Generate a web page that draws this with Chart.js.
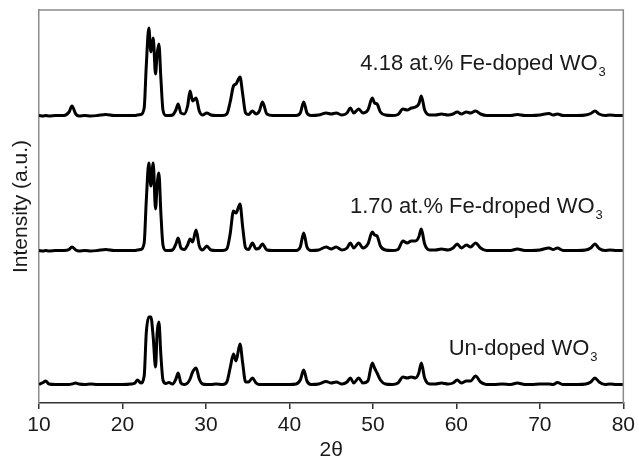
<!DOCTYPE html>
<html>
<head>
<meta charset="utf-8">
<style>
  html, body { margin: 0; padding: 0; background: #fff; }
  #wrap { width: 639px; height: 463px; }
</style>
</head>
<body>
<div id="wrap">
  <canvas id="xrd"></canvas>
</div>

<script src="https://cdn.jsdelivr.net/npm/chart.js"></script>

<script>
  // 2-theta grid (degrees), shared by the three patterns
  const twoTheta = [
    10.0, 10.5, 10.8, 11.2, 12.0, 13.0, 13.6, 13.95, 14.4, 14.8,
    15.5, 16.2, 17.0, 18.0, 19.0, 20.0, 21.0, 21.5, 21.8, 22.2,
    22.6, 22.85, 23.16, 23.4, 23.68, 23.96, 24.15, 24.36, 24.6, 24.85,
    25.2, 25.55, 26.0, 26.4, 26.67, 27.0, 27.4, 27.8, 28.1, 28.4,
    28.82, 29.2, 29.6, 30.1, 30.6, 31.2, 32.0, 32.5, 32.9, 33.3,
    33.6, 34.08, 34.4, 34.75, 35.1, 35.57, 36.0, 36.4, 36.77, 37.3,
    38.0, 39.0, 40.0, 40.8, 41.3, 41.71, 42.1, 42.6, 43.5, 44.4,
    45.0, 45.6, 46.3, 46.9, 47.3, 47.7, 48.3, 48.8, 49.4, 49.93,
    50.2, 50.5, 50.9, 51.5, 52.3, 53.0, 53.6, 54.1, 54.6, 55.1,
    55.5, 55.8, 56.2, 56.8, 57.5, 58.2, 59.0, 59.6, 60.1, 60.6,
    61.2, 61.7, 62.3, 62.9, 63.6, 64.5, 65.5, 66.5, 67.3, 68.2,
    69.0, 70.0, 71.1, 71.6, 72.1, 72.8, 73.6, 74.5, 75.5, 76.1,
    76.6, 77.1, 77.8, 78.4, 79.2, 80.0
  ];

  // intensities (a.u.), each above its own baseline
  const fe418 = [
    0.5, 0, 0.5, 0, 0.5, 0.5, 4, 10, 2, 0,
    0.5, 0, 0.5, 1.5, 0.5, 0.5, 0.5, 0.5, 1, 1.5,
    8, 50, 88, 64, 78, 42, 62, 72, 38, 6,
    0.5, 0.5, 1, 6, 12, 3, 2, 10, 25, 15,
    18, 5, 1, 3, 1, 0.5, 0.5, 2, 14, 30,
    32, 39, 22, 3, 1.5, 5, 2, 5, 14, 2,
    0.5, 0.5, 0.5, 0.5, 3, 14, 3, 0.5, 1, 3,
    2, 3, 1, 3, 8, 3, 7, 3, 6, 18,
    13, 12, 4, 1, 0.5, 1.5, 7, 6, 8, 9,
    12, 20, 6, 1, 1, 2, 1, 2, 4, 2,
    4, 3, 5, 2, 0.5, 0.5, 0.5, 0.5, 1.5, 0.5,
    0.5, 1, 2.5, 1, 2, 0.5, 0.5, 0.5, 1, 2.5,
    5, 2, 0.5, 1, 0.5, 0.5
  ];

  const fe170 = [
    0.5, 0, 0.5, 0, 0.5, 0.5, 1.5, 4, 1, 0,
    0.5, 0, 0.5, 1.5, 0.5, 0.5, 0.5, 0.5, 1, 1.5,
    8, 50, 88, 65, 88, 42, 66, 78, 38, 6,
    0.5, 0.5, 1, 7, 13, 3, 1.5, 6, 12, 9,
    21, 5, 1, 5, 1, 0.5, 0.5, 2, 17, 40,
    38, 47, 24, 3, 1.5, 8, 2, 3, 7, 1,
    0.5, 0.5, 0.5, 0.5, 4, 18, 4, 0.5, 1, 4,
    2, 4, 1, 3, 8, 3, 8, 3, 7, 19,
    16, 15, 5, 1, 0.5, 1.5, 10, 8, 10, 10,
    14, 22, 7, 1, 1, 2, 1, 3, 7, 3,
    6, 4, 8, 3, 0.5, 0.5, 0.5, 0.5, 2, 0.5,
    0.5, 1, 3, 1.5, 3, 0.5, 0.5, 0.5, 1, 3,
    7, 2.5, 0.5, 1, 0.5, 0.5
  ];

  const undoped = [
    0.5, 2.5, 4, 1, 0.5, 0.5, 0.5, 1, 2, 1,
    0.5, 1, 0.5, 0.5, 0.5, 0.5, 1, 2, 5, 2,
    9, 52, 68, 68, 48, 18, 52, 63, 30, 5,
    1.5, 2.5, 1, 6, 12, 2, 0.5, 2, 6, 13,
    17, 6, 1, 0.5, 0.5, 1, 0.5, 3, 17, 31,
    24, 41, 22, 3, 3, 7, 2, 0.5, 0.5, 0.5,
    0.5, 0.5, 0.5, 1, 5, 15, 4, 0.5, 1, 3.5,
    2, 3, 1, 3, 7, 2, 7, 2, 4, 22,
    17, 12, 5, 1, 0.5, 2, 8, 7, 8, 7,
    12, 22, 7, 1, 1, 2, 1, 2, 5, 2,
    4, 4, 9, 3, 0.5, 0.5, 1, 0.5, 2, 0.5,
    0.5, 1, 1, 0.5, 2.5, 0.5, 0.5, 0.5, 1, 3,
    7, 3, 0.5, 1, 0.5, 0.5
  ];

  // vertical stacking of the patterns
  const offsets = [287, 152, 18];
  const seriesNames = ['4.18 at.% Fe-doped WO3', '1.70 at.% Fe-droped WO3', 'Un-doped WO3'];
  const seriesValues = [fe418, fe170, undoped];

  // labels: main text, centre 2θ, baseline intensity
  const labelText = ['4.18 at.% Fe-doped WO', '1.70 at.% Fe-droped WO', 'Un-doped WO'];
  const labelX = [63.2, 62.4, 68.0];
  const labelY = [333, 190, 48];

  const FONT = '"Liberation Sans", Arial, sans-serif';

  const datasets = seriesValues.map((vals, i) => ({
    label: seriesNames[i],
    data: twoTheta.map((t, k) => ({x: t, y: vals[k] + offsets[i]})),
    borderColor: '#000',
    borderWidth: 3,
    borderJoinStyle: 'round',
    pointRadius: 0,
    cubicInterpolationMode: 'monotone',
    fill: false
  }));

  const frameAndLabels = {
    id: 'frameAndLabels',
    afterDraw(chart) {
      const {ctx, chartArea: a, scales} = chart;
      ctx.save();
      // top and right frame lines
      ctx.strokeStyle = '#8c8c8c';
      ctx.lineWidth = 1.5;
      ctx.beginPath();
      ctx.moveTo(a.left, a.top);
      ctx.lineTo(a.right, a.top);
      ctx.lineTo(a.right, a.bottom);
      ctx.stroke();

      ctx.fillStyle = '#1a1a1a';
      ctx.textBaseline = 'alphabetic';
      labelText.forEach((txt, i) => {
        ctx.font = '22px ' + FONT;
        const w = ctx.measureText(txt).width;
        ctx.font = '13px ' + FONT;
        const ws = ctx.measureText('3').width;
        const cx = scales.x.getPixelForValue(labelX[i]);
        const by = scales.y.getPixelForValue(labelY[i]);
        const x0 = cx - (w + ws + 1) / 2;
        ctx.font = '22px ' + FONT;
        ctx.fillText(txt, x0, by);
        ctx.font = '13px ' + FONT;
        ctx.fillText('3', x0 + w + 1, by + 6);
      });
      ctx.restore();
    }
  };

  new Chart(document.getElementById('xrd'), {
    type: 'line',
    data: { datasets },
    options: {
      responsive: true,
      maintainAspectRatio: false,
      animation: false,
      layout: { padding: { left: 0, top: 10, right: 15, bottom: 0 } },
      plugins: { legend: { display: false }, tooltip: { enabled: false } },
      scales: {
        x: {
          type: 'linear',
          min: 10,
          max: 80,
          afterFit: (s) => { s.height = 60; },
          ticks: { stepSize: 10, color: '#1a1a1a', padding: 4, font: { family: FONT, size: 21 } },
          grid: { drawOnChartArea: false, drawTicks: true, tickLength: 6, color: '#333', lineWidth: 1.5 },
          border: { color: '#333', width: 1.5 },
          title: { display: true, text: '2θ', color: '#1a1a1a', padding: { top: 0, bottom: 0 }, font: { family: FONT, size: 21 } }
        },
        y: {
          type: 'linear',
          min: 0,
          max: 393,
          afterFit: (s) => { s.width = 39; },
          ticks: { display: false },
          grid: { display: false, drawTicks: false },
          border: { color: '#8c8c8c', width: 1.5 },
          title: { display: true, text: 'Intensity (a.u.)', color: '#1a1a1a', padding: { top: 9, bottom: 0 }, font: { family: FONT, size: 21 } }
        }
      }
    },
    plugins: [frameAndLabels]
  });
</script>
</body>
</html>
